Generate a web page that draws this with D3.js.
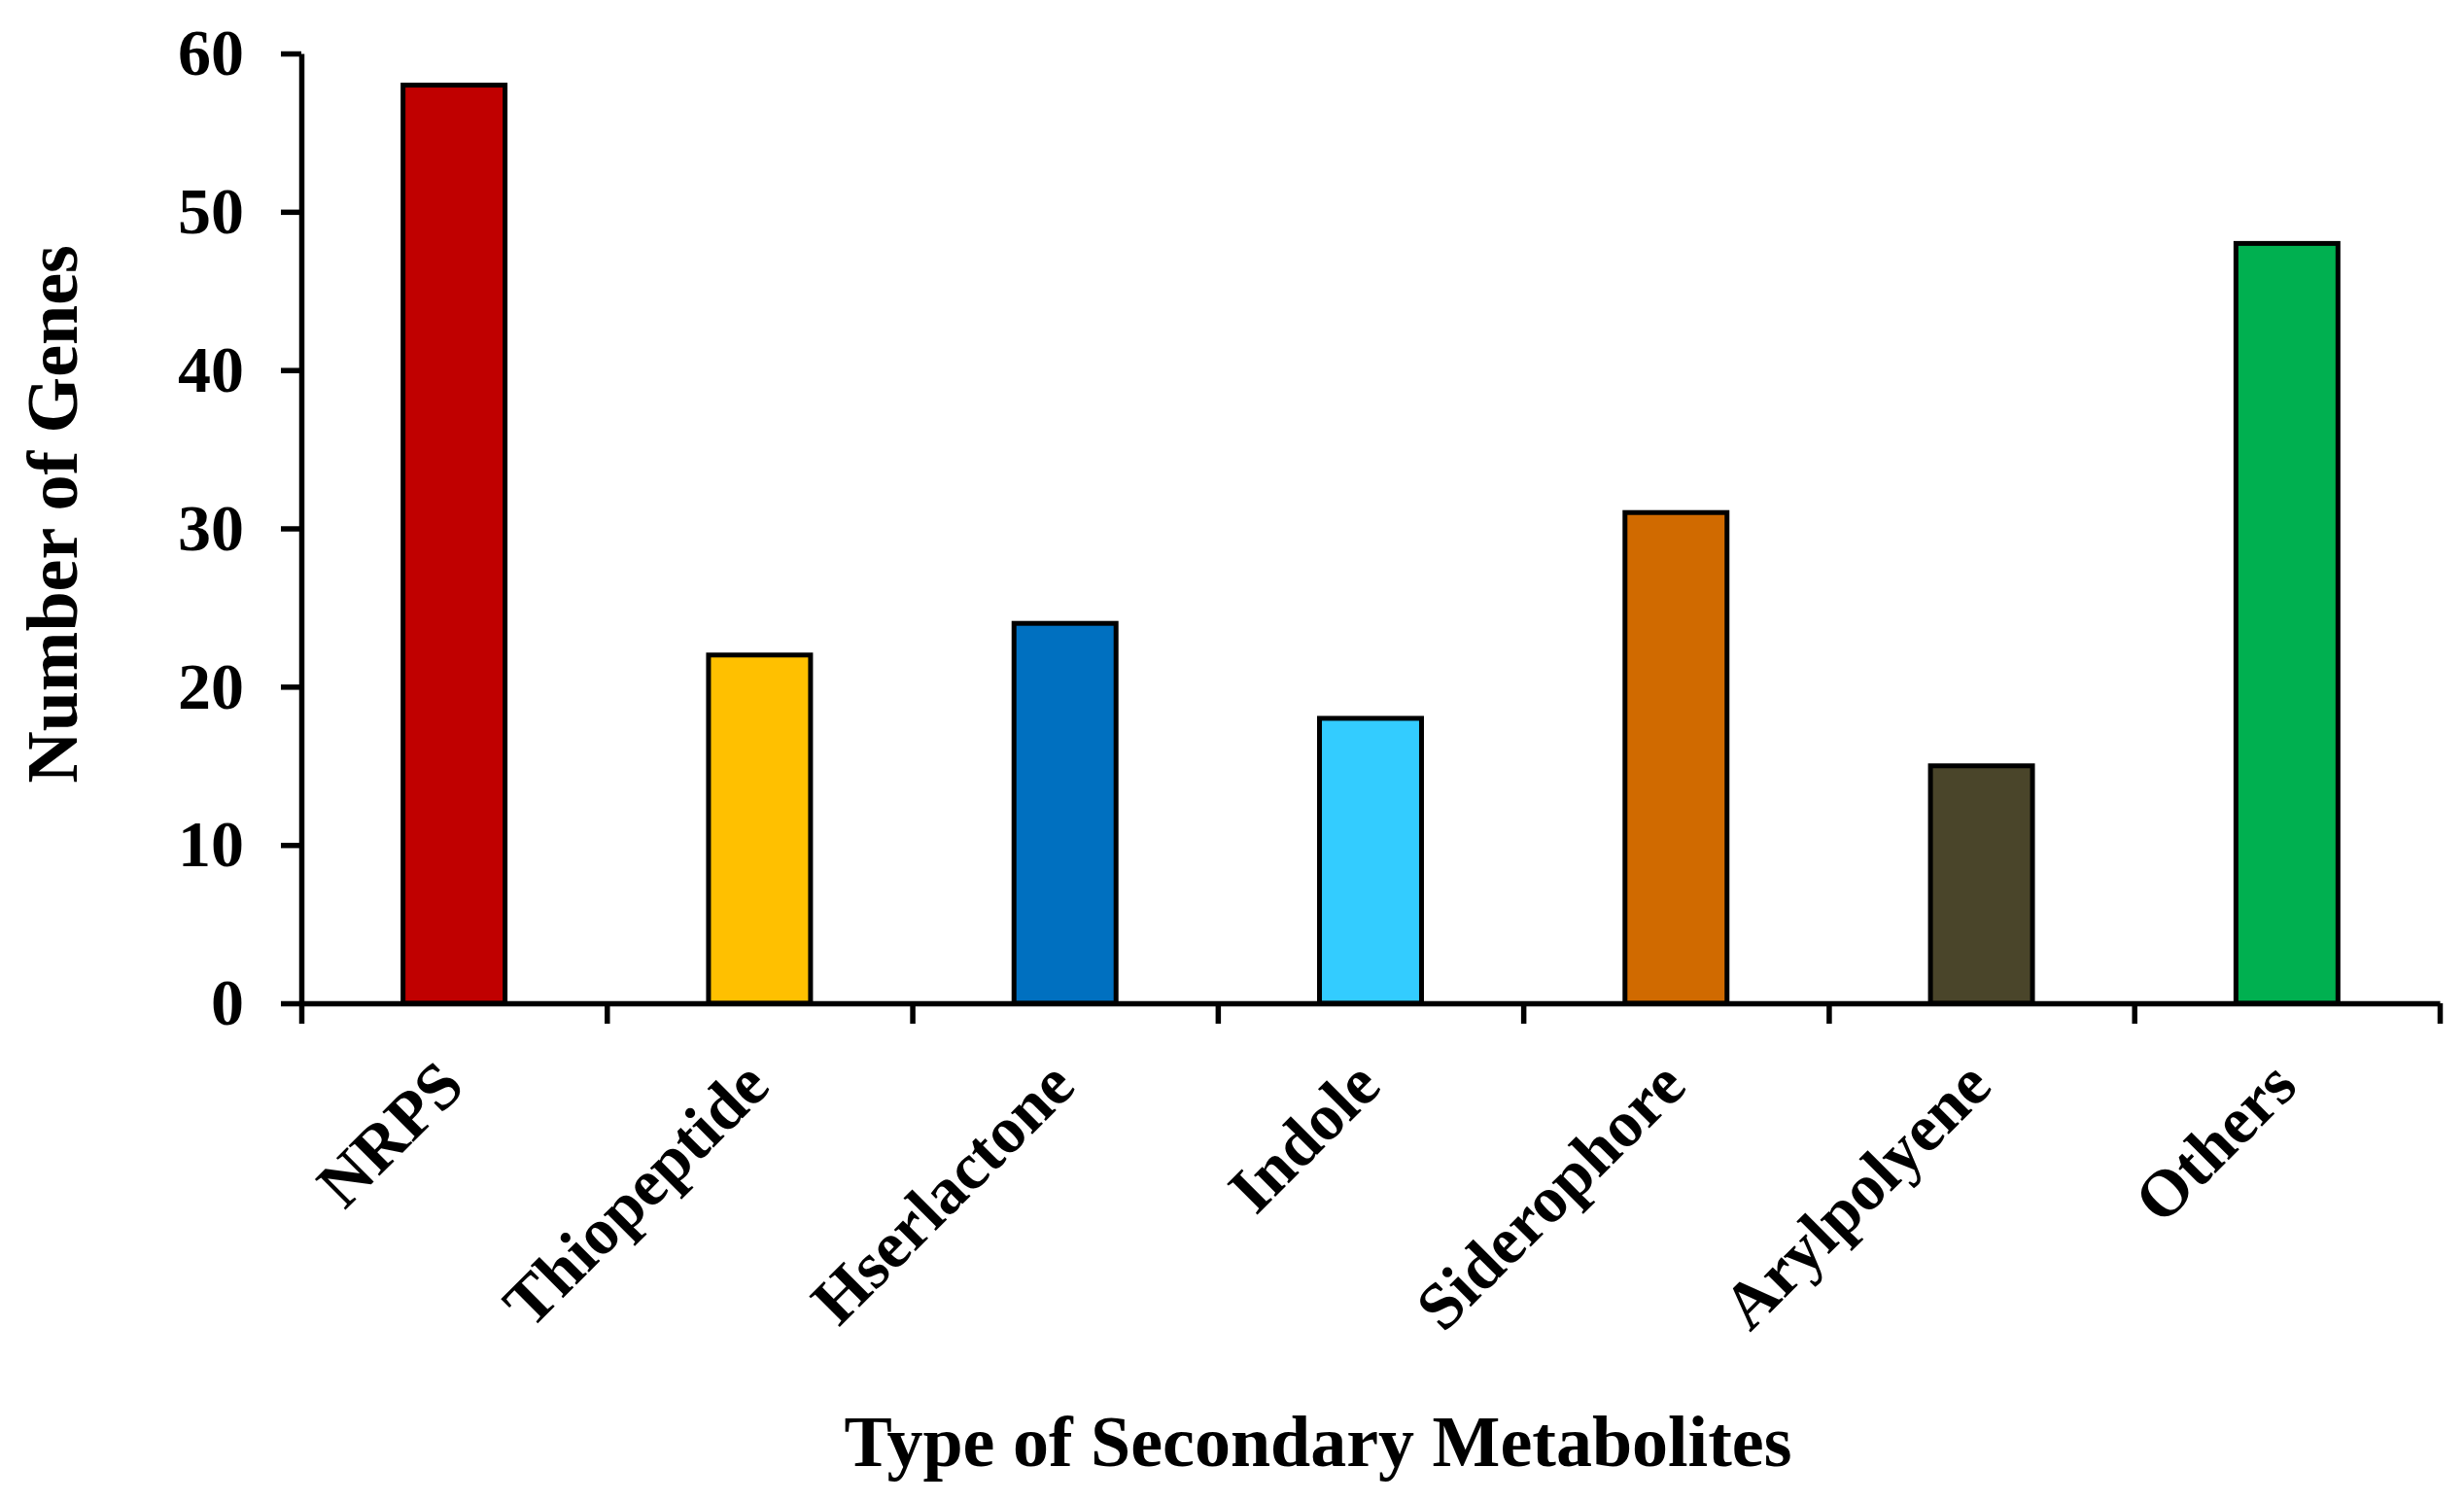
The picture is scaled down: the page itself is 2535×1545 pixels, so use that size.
<!DOCTYPE html>
<html>
<head>
<meta charset="utf-8">
<script src="https://d3js.org/d3.v7.min.js"></script>
<style>
  body { margin: 0; background: #fff; }
  .axisG text { font-family: "Liberation Serif", "Times New Roman", serif; font-weight: bold; fill: #000; }
</style>
</head>
<body>
<svg id="chartSVG"></svg>
<script>
// data
var categories = ["NRPS", "Thiopeptide", "Hserlactone", "Indole", "Siderophore", "Arylpolyene", "Others"];
var geneCounts = [58, 22, 24, 18, 31, 15, 48];
var barColors = ["#C00000", "#FFC000", "#0070C0", "#33CCFF", "#D06A00", "#4A452A", "#00B050"];
var yTicks = [0, 10, 20, 30, 40, 50, 60];

var width = 2535;
var height = 1545;
var margin = {top: 55, right: 25, bottom: 513, left: 310};
var plotW = width - margin.left - margin.right;
var plotH = height - margin.top - margin.bottom;
var fontFam = '"Liberation Serif", "Times New Roman", serif';

var svg = d3.select("#chartSVG")
    .attr("width", width)
    .attr("height", height);

svg.append("rect")
    .attr("width", width)
    .attr("height", height)
    .attr("fill", "#fff");

var g = svg.append("g")
    .attr("transform", "translate(" + margin.left + "," + margin.top + ")");

var data = categories.map(function(c, i) {
    return {name: c, value: geneCounts[i], color: barColors[i]};
});

var x = d3.scaleBand()
    .domain(categories)
    .range([0, plotW])
    .paddingInner(0.666)
    .paddingOuter(0.333);

// boundary ticks between categories
var xEdge = d3.scaleLinear()
    .domain([0, categories.length])
    .range([0, plotW]);

var y = d3.scaleLinear()
    .domain([0, 60])
    .range([plotH, 0]);

// bars
g.selectAll(".bar")
    .data(data)
    .enter()
    .append("rect")
    .attr("class", "bar")
    .attr("x", function(d) { return x(d.name); })
    .attr("y", function(d) { return y(d.value); })
    .attr("width", x.bandwidth())
    .attr("height", function(d) { return plotH - y(d.value); })
    .attr("fill", function(d) { return d.color; })
    .attr("stroke", "#000")
    .attr("stroke-width", 5);

// y axis
var yAxis = g.append("g")
    .attr("class", "axisG")
    .call(d3.axisLeft(y).tickValues(yTicks).tickSize(21).tickSizeOuter(0).tickPadding(38));
yAxis.selectAll("text").attr("font-size", "68px");
yAxis.selectAll("line").attr("stroke-width", 5.5);
yAxis.select(".domain").attr("stroke-width", 5.5);

// x axis: tick marks on boundaries
var xTickAxis = g.append("g")
    .attr("class", "axisG")
    .attr("transform", "translate(0," + plotH + ")")
    .call(d3.axisBottom(xEdge).ticks(categories.length).tickSize(21).tickSizeOuter(0).tickFormat(""));
xTickAxis.selectAll("line").attr("stroke-width", 5.5);
xTickAxis.select(".domain").attr("stroke-width", 5.5);

// x labels
var xLabAxis = g.append("g")
    .attr("class", "axisG")
    .attr("transform", "translate(0," + plotH + ")")
    .call(d3.axisBottom(x).tickSize(0));
xLabAxis.select(".domain").remove();
xLabAxis.selectAll("text")
    .attr("font-size", "68px")
    .attr("y", 0)
    .attr("dy", 0)
    .attr("transform", "translate(13,88)rotate(-45)")
    .style("text-anchor", "end");

// axis titles
svg.append("text")
    .text("Number of Genes")
    .attr("font-family", fontFam)
    .attr("font-weight", "bold")
    .attr("font-size", "74px")
    .attr("text-anchor", "middle")
    .attr("transform", "translate(79,529)rotate(-90)");

svg.append("text")
    .text("Type of Secondary Metabolites")
    .attr("font-family", fontFam)
    .attr("font-weight", "bold")
    .attr("font-size", "74px")
    .attr("text-anchor", "middle")
    .attr("x", 1356)
    .attr("y", 1508);
</script>
</body>
</html>
